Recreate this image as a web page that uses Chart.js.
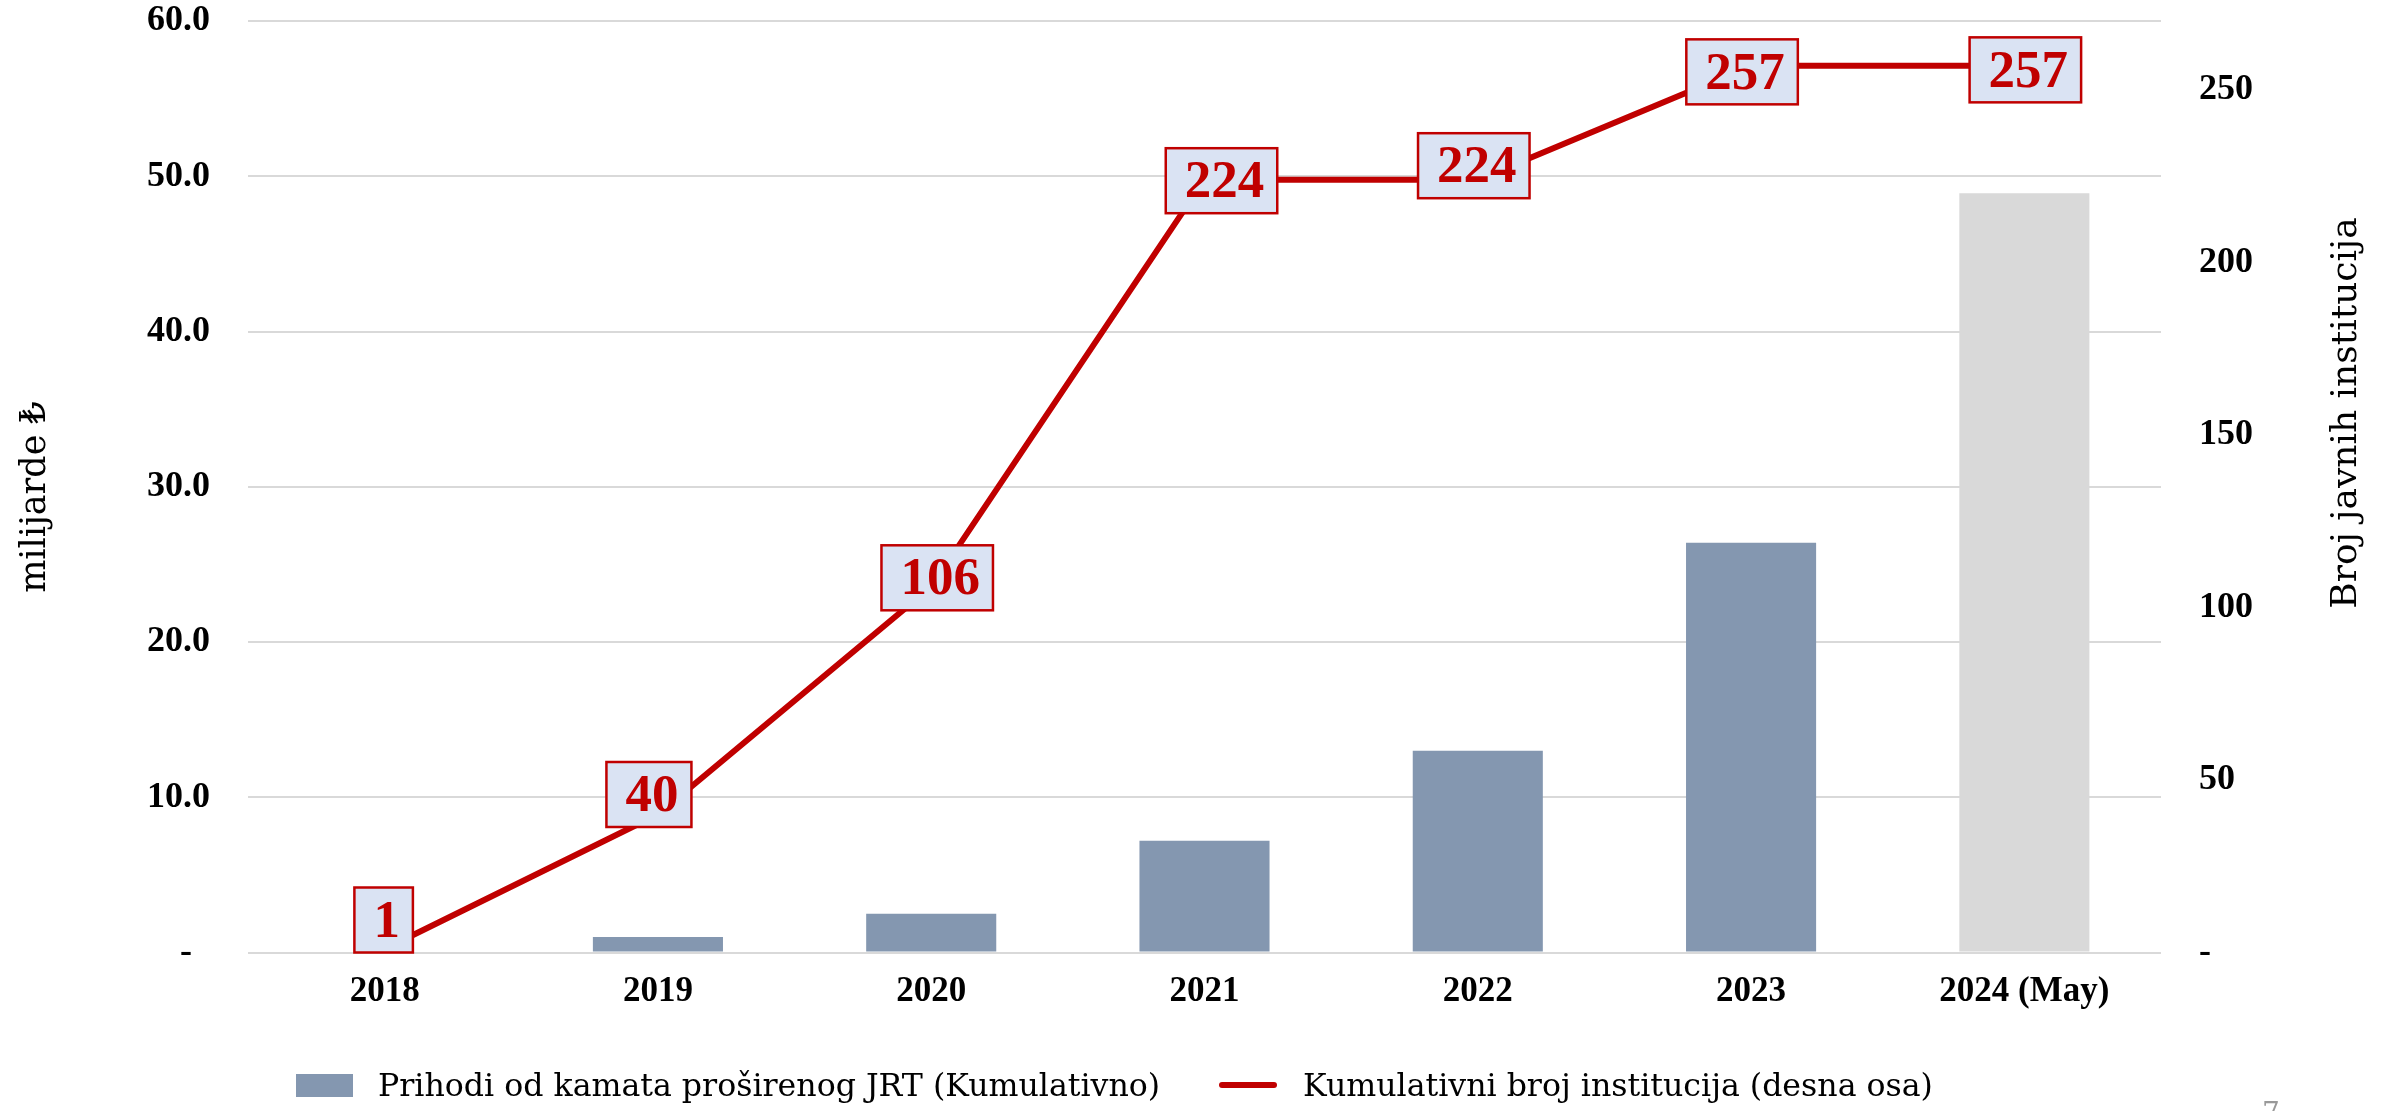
<!DOCTYPE html>
<html>
<head>
<meta charset="utf-8">
<script src="https://cdn.jsdelivr.net/npm/chart.js@4.4.1/dist/chart.umd.min.js"></script>
<style>
  html, body { margin: 0; padding: 0; background: #fff; overflow: hidden; }
  #wrap { position: relative; width: 2389px; height: 1111px; }
  .leg { position: absolute; display: flex; align-items: center; font-family: 'DejaVu Serif', serif; font-size: 31.6px; color: #000; white-space: nowrap; }
  .leg .box { width: 57px; height: 23px; background: #8497b0; margin-right: 25px; }
  .leg .ln { width: 58px; height: 6px; border-radius: 3px; background: #c00000; margin-right: 26px; }
  #pageNo { position: absolute; left: 2262px; top: 1096px; font-family: 'DejaVu Serif', serif; font-size: 28px; color: #999; }
</style>
</head>
<body>
<div id="wrap">
  <canvas id="chart" width="2389" height="1111"></canvas>
  <div class="leg" style="left:296px; top:1067px;"><span class="box"></span>Prihodi od kamata proširenog JRT (Kumulativno)</div>
  <div class="leg" style="left:1219px; top:1067px;"><span class="ln"></span>Kumulativni broj institucija (desna osa)</div>
  <div id="pageNo">7</div>
</div>
<script>
const years = ['2018', '2019', '2020', '2021', '2022', '2023', '2024 (May)'];
const interestIncome = [0, 1.0, 2.5, 7.2, 13.0, 26.4, 48.9];   // milijarde ₺
const institutions = [1, 40, 106, 224, 224, 257, 257];

const barColors = ['#8497b0', '#8497b0', '#8497b0', '#8497b0', '#8497b0', '#8497b0', '#d9d9d9'];

const tickFont = { family: 'Liberation Serif', size: 36, weight: 'bold' };
const xTickFont = { family: 'Liberation Serif', size: 35, weight: 'bold' };

// boxed value labels on the line (like Excel data callouts) + axis titles
const boxLabels = {
    id: 'boxLabels',
    afterDatasetsDraw(chart, args, opts) {
        const meta = chart.getDatasetMeta(1);
        const area = chart.chartArea;
        const ctx = chart.ctx;
        ctx.save();
        ctx.font = opts.font;
        ctx.textAlign = 'center';
        ctx.textBaseline = 'middle';
        meta.data.forEach((pt, i) => {
            const text = String(institutions[i]);
            const nudge = opts.nudge[i] || [0, 0];
            const w = ctx.measureText(text).width + opts.padX * 2;
            const h = opts.height;
            let cx = pt.x + nudge[0];
            let cy = pt.y + nudge[1];
            cy = Math.min(cy, area.bottom - h / 2);
            ctx.fillStyle = opts.fill;
            ctx.fillRect(cx - w / 2, cy - h / 2, w, h);
            ctx.strokeStyle = opts.border;
            ctx.lineWidth = 2.5;
            ctx.strokeRect(cx - w / 2, cy - h / 2, w, h);
            ctx.fillStyle = opts.color;
            ctx.fillText(text, cx + 3, cy + 3);
        });
        ctx.restore();
    },
    afterDraw(chart, args, opts) {
        // both axis titles read bottom-to-top
        const ctx = chart.ctx;
        const drawTitle = (text, x, y, font) => {
            ctx.save();
            ctx.translate(x, y);
            ctx.rotate(-Math.PI / 2);
            ctx.font = font;
            ctx.fillStyle = '#000';
            ctx.textAlign = 'center';
            ctx.textBaseline = 'middle';
            ctx.fillText(text, 0, 0);
            ctx.restore();
        };
        drawTitle(opts.leftTitle, 36, 497, '35px "DejaVu Serif"');
        drawTitle(opts.rightTitle, chart.width - 42, 413, '36px "DejaVu Serif"');
    }
};

// y axes: fixed width, no extra room reserved above/below for tick labels
function fitY(width) {
    return s => {
        s.width = width;
        s.paddingTop = 0;
        s.paddingBottom = 0;
    };
}

const ctx = document.getElementById('chart').getContext('2d');
new Chart(ctx, {
    type: 'bar',
    data: {
        labels: years,
        datasets: [
            {
                type: 'bar',
                label: 'Prihodi od kamata proširenog JRT (Kumulativno)',
                data: interestIncome,
                backgroundColor: barColors,
                barPercentage: 0.476,
                categoryPercentage: 1,
                yAxisID: 'y',
                order: 2,
            },
            {
                type: 'line',
                label: 'Kumulativni broj institucija (desna osa)',
                data: institutions,
                borderColor: '#c00000',
                borderWidth: 6,
                pointRadius: 0,
                tension: 0,
                yAxisID: 'y1',
                order: 1,
            },
        ],
    },
    options: {
        responsive: false,
        animation: false,
        layout: { padding: { top: 21, bottom: 78.5, left: 0, right: 0 } },
        plugins: {
            legend: { display: false },
            tooltip: { enabled: false },
            boxLabels: {
                font: 'bold 53px "Liberation Serif"',
                fill: '#dae3f3',
                border: '#c00000',
                color: '#c00000',
                padX: 16,
                height: 65,
                nudge: [[-1, 0], [-9, -20], [6, -9], [17, 1], [-4, -14], [-9, 6], [1, 4]],
                leftTitle: 'milijarde ₺',
                rightTitle: 'Broj javnih institucija',
            },
        },
        scales: {
            x: {
                grid: { display: false },
                border: { display: false },
                ticks: { font: xTickFont, color: '#000', padding: 10 },
                afterFit: s => { s.height = 80; },
            },
            y: {
                position: 'left',
                min: 0,
                max: 60,
                grid: { color: '#d9d9d9', lineWidth: 2, drawTicks: false },
                border: { display: false },
                ticks: {
                    stepSize: 10,
                    font: tickFont,
                    color: '#000',
                    padding: 38,
                    callback: v => v === 0 ? '-\u2007' : v.toFixed(1),
                },
                afterFit: fitY(248),
            },
            y1: {
                position: 'right',
                min: 0,
                max: 270,
                grid: { display: false },
                border: { display: false },
                ticks: {
                    stepSize: 50,
                    font: tickFont,
                    color: '#000',
                    padding: 30,
                    callback: v => v % 50 !== 0 ? null : (v === 0 ? '-' : String(v)),
                },
                afterFit: fitY(228),
            },
        },
    },
    plugins: [boxLabels],
});
</script>
</body>
</html>
